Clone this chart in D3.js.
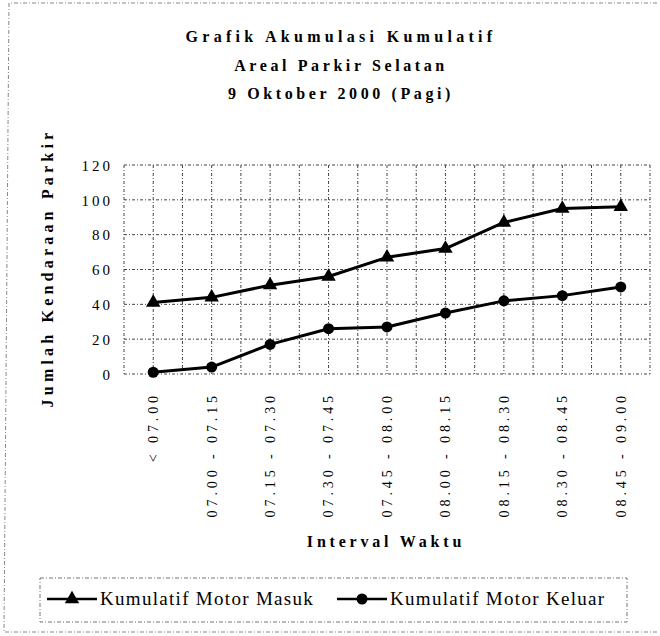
<!DOCTYPE html>
<html>
<head>
<meta charset="utf-8">
<script src="https://cdn.jsdelivr.net/npm/d3@7"></script>
<style>
  html, body { margin: 0; padding: 0; background: #fff; }
  svg { display: block; }
  text { font-family: "Liberation Serif", "Tinos", "Times New Roman", Times, serif; fill: #000; }
</style>
</head>
<body>
<svg id="chart" width="660" height="636"></svg>
<script>
// ---- data ----
const titleLines = ["Grafik Akumulasi Kumulatif", "Areal Parkir Selatan", "9 Oktober 2000 (Pagi)"];
const categories = ["< 07.00", "07.00 - 07.15", "07.15 - 07.30", "07.30 - 07.45", "07.45 - 08.00",
                    "08.00 - 08.15", "08.15 - 08.30", "08.30 - 08.45", "08.45 - 09.00"];
const masukValues  = [41, 44, 51, 56, 67, 72, 87, 95, 96];
const keluarValues = [1, 4, 17, 26, 27, 35, 42, 45, 50];
const yTicks = [0, 20, 40, 60, 80, 100, 120];
const seriesNames = ["Kumulatif Motor Masuk", "Kumulatif Motor Keluar"];
const yTitle = "Jumlah Kendaraan Parkir";
const xTitle = "Interval Waktu";

// ---- layout ----
const FONT = '"Liberation Serif", "Tinos", "Times New Roman", Times, serif';
const svg = d3.select("#chart");
const plot = { left: 124, right: 650, top: 165, bottom: 374 };

const x = d3.scaleBand().domain(categories).range([plot.left, plot.right]).padding(0);
const y = d3.scaleLinear().domain([0, 120]).range([plot.bottom, plot.top]);
const cx = d => x(d) + x.bandwidth() / 2;

// outer (scanned) border
svg.append("path")
  .attr("d", "M657,3 L9,3 L4,632 L657,632")
  .attr("fill", "none").attr("stroke", "#888").attr("stroke-width", 1)
  .attr("stroke-dasharray", "4,2,1,2");

// title
svg.append("g").selectAll("text").data(titleLines).join("text")
  .attr("x", 341).attr("y", (d, i) => 42 + i * 28.5)
  .attr("text-anchor", "middle")
  .style("font-family", FONT)
  .style("font-size", "16px").style("font-weight", "bold")
  .style("letter-spacing", (d, i) => i === 0 ? "4.3px" : "3.6px")
  .text(d => d);

// gridlines
const grid = svg.append("g").attr("stroke", "#444").attr("stroke-width", 1)
  .attr("stroke-dasharray", "3,2,1,2").attr("fill", "none");
grid.selectAll("line.h").data(yTicks).join("line").attr("class", "h")
  .attr("x1", plot.left).attr("x2", plot.right)
  .attr("y1", d => y(d)).attr("y2", d => y(d));
const halfSteps = d3.range(0, categories.length * 2 + 1);
grid.selectAll("line.v").data(halfSteps).join("line").attr("class", "v")
  .attr("x1", i => plot.left + i * x.bandwidth() / 2)
  .attr("x2", i => plot.left + i * x.bandwidth() / 2)
  .attr("y1", plot.top).attr("y2", plot.bottom);

// y axis
const yAxis = svg.append("g").attr("transform", `translate(${plot.left - 11},0)`)
  .call(d3.axisLeft(y).tickValues(yTicks).tickSize(0).tickPadding(0));
yAxis.attr("font-family", null);
yAxis.select(".domain").remove();
yAxis.selectAll("text")
  .style("font-family", FONT).style("font-size", "15px")
  .style("letter-spacing", "3px").attr("dy", "0.35em");

// x axis
const xAxis = svg.append("g").attr("transform", `translate(0,${plot.bottom})`)
  .call(d3.axisBottom(x).tickSize(0).tickPadding(0));
xAxis.attr("font-family", null);
xAxis.select(".domain").remove();
xAxis.selectAll("text")
  .style("font-family", FONT).style("font-size", "14px")
  .style("letter-spacing", "3.9px")
  .attr("text-anchor", "end")
  .attr("transform", "translate(0,18) rotate(-90)")
  .attr("x", 0).attr("y", 0).attr("dy", "0.35em");

// axis titles
svg.append("text")
  .attr("transform", "translate(53,268) rotate(-90)")
  .attr("text-anchor", "middle")
  .style("font-family", FONT)
  .style("font-size", "16px").style("font-weight", "bold").style("letter-spacing", "4.2px")
  .text(yTitle);
svg.append("text")
  .attr("x", 386).attr("y", 547).attr("text-anchor", "middle")
  .style("font-family", FONT)
  .style("font-size", "16px").style("font-weight", "bold").style("letter-spacing", "3.8px")
  .text(xTitle);

// series
const line = d3.line().x((d, i) => cx(categories[i])).y(d => y(d));
const series = [
  { name: seriesNames[0], values: masukValues, symbol: d3.symbolTriangle, size: 90 },
  { name: seriesNames[1], values: keluarValues, symbol: d3.symbolCircle, size: 95 }
];
series.forEach(s => {
  svg.append("path").datum(s.values).attr("d", line)
    .attr("fill", "none").attr("stroke", "#000").attr("stroke-width", 3)
    .attr("stroke-linejoin", "round");
  svg.append("g").selectAll("path").data(s.values).join("path")
    .attr("transform", (d, i) => `translate(${cx(categories[i])},${y(d)})`)
    .attr("d", d3.symbol().type(s.symbol).size(s.size))
    .attr("fill", "#000");
});

// legend
const lg = svg.append("g");
lg.append("rect").attr("x", 40).attr("y", 578).attr("width", 587).attr("height", 44)
  .attr("fill", "none").attr("stroke", "#777").attr("stroke-width", 1)
  .attr("stroke-dasharray", "4,2,1,2");
const legendX = [47, 337];
series.forEach((s, i) => {
  const g = lg.append("g").attr("transform", `translate(${legendX[i]},599)`);
  g.append("line").attr("x1", 0).attr("x2", 50).attr("y1", 0).attr("y2", 0)
    .attr("stroke", "#000").attr("stroke-width", 2.5);
  g.append("path").attr("transform", "translate(25,0)")
    .attr("d", d3.symbol().type(s.symbol).size(s.size)).attr("fill", "#000");
  g.append("text").attr("x", 53).attr("y", 6)
    .style("font-family", FONT)
    .style("font-size", "19px").style("letter-spacing", "1.3px")
    .text(s.name);
});
</script>
</body>
</html>
